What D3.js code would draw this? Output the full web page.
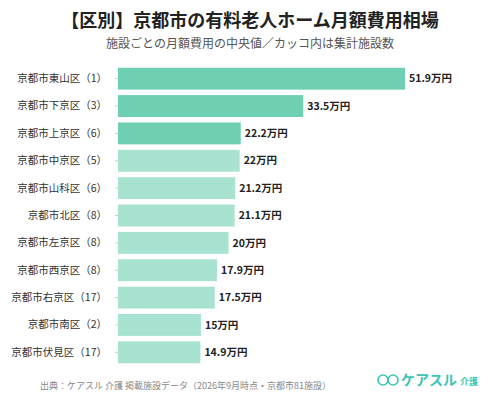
<!DOCTYPE html>
<html><head><meta charset="utf-8">
<script src="https://cdn.jsdelivr.net/npm/d3@7"></script>
<style>body{margin:0;background:#fff}svg{font-family:"Noto Sans CJK JP",sans-serif}</style>
</head><body><svg id="c" width="500" height="412"></svg>
<script>
const wards = ["京都市東山区（1）","京都市下京区（3）","京都市上京区（6）","京都市中京区（5）","京都市山科区（6）","京都市北区（8）","京都市左京区（8）","京都市西京区（8）","京都市右京区（17）","京都市南区（2）","京都市伏見区（17）"];
const values = [51.9, 33.5, 22.2, 22, 21.2, 21.1, 20, 17.9, 17.5, 15, 14.9];
const labels = ["51.9万円","33.5万円","22.2万円","22万円","21.2万円","21.1万円","20万円","17.9万円","17.5万円","15万円","14.9万円"];

const svg = d3.select("#c");
const x = d3.scaleLinear().domain([0, 51.9]).range([118, 405]);
const y = d3.scaleBand().domain(wards).range([65, 366]).paddingInner(0.2).paddingOuter(0.1);

svg.append("text").attr("x", 250).attr("y", 27).attr("text-anchor", "middle")
  .attr("font-size", 18).attr("font-weight", "bold").attr("fill", "#222")
  .text("【区別】京都市の有料老人ホーム月額費用相場");
svg.append("text").attr("x", 250).attr("y", 48).attr("text-anchor", "middle")
  .attr("font-size", 12).attr("fill", "#555")
  .text("施設ごとの月額費用の中央値／カッコ内は集計施設数");

const ax = svg.append("g").attr("transform", "translate(118,0)")
  .call(d3.axisLeft(y).tickSize(3).tickPadding(8));
ax.select(".domain").remove();
ax.selectAll("line").attr("stroke", "#ccc");
ax.selectAll("text").attr("font-size", 10.5).attr("fill", "#333")
  .style("font-family", '"Noto Sans CJK JP",sans-serif');

svg.append("g").selectAll("rect").data(values).join("rect")
  .attr("x", x(0)).attr("y", (d, i) => y(wards[i]))
  .attr("width", d => x(d) - x(0)).attr("height", y.bandwidth())
  .attr("fill", (d, i) => i < 3 ? "#6fcfb3" : "#a8e2d0");

svg.append("g").selectAll("text").data(values).join("text")
  .attr("x", d => x(d) + 4).attr("y", (d, i) => y(wards[i]) + y.bandwidth() / 2)
  .attr("dy", "0.35em").attr("font-size", 10.5).attr("font-weight", "bold").attr("fill", "#222")
  .text((d, i) => labels[i]);

svg.append("text").attr("x", 40).attr("y", 389).attr("font-size", 9).attr("fill", "#888")
  .text("出典：ケアスル 介護 掲載施設データ（2026年9月時点・京都市81施設）");
const logo = svg.append("g").attr("transform", "translate(378,380)");
logo.append("circle").attr("cx", 5).attr("cy", 0).attr("r", 5).attr("fill", "none").attr("stroke", "#3cc4b4").attr("stroke-width", 1.6);
logo.append("circle").attr("cx", 15).attr("cy", 0).attr("r", 5).attr("fill", "none").attr("stroke", "#3cc4b4").attr("stroke-width", 1.6);
logo.append("text").attr("x", 23).attr("y", 5).attr("font-size", 14).attr("font-weight", "bold").attr("fill", "#3cc4b4").text("ケアスル");
logo.append("text").attr("x", 82).attr("y", 5).attr("font-size", 9).attr("font-weight", "bold").attr("fill", "#3cc4b4").text("介護");
</script></body></html>
